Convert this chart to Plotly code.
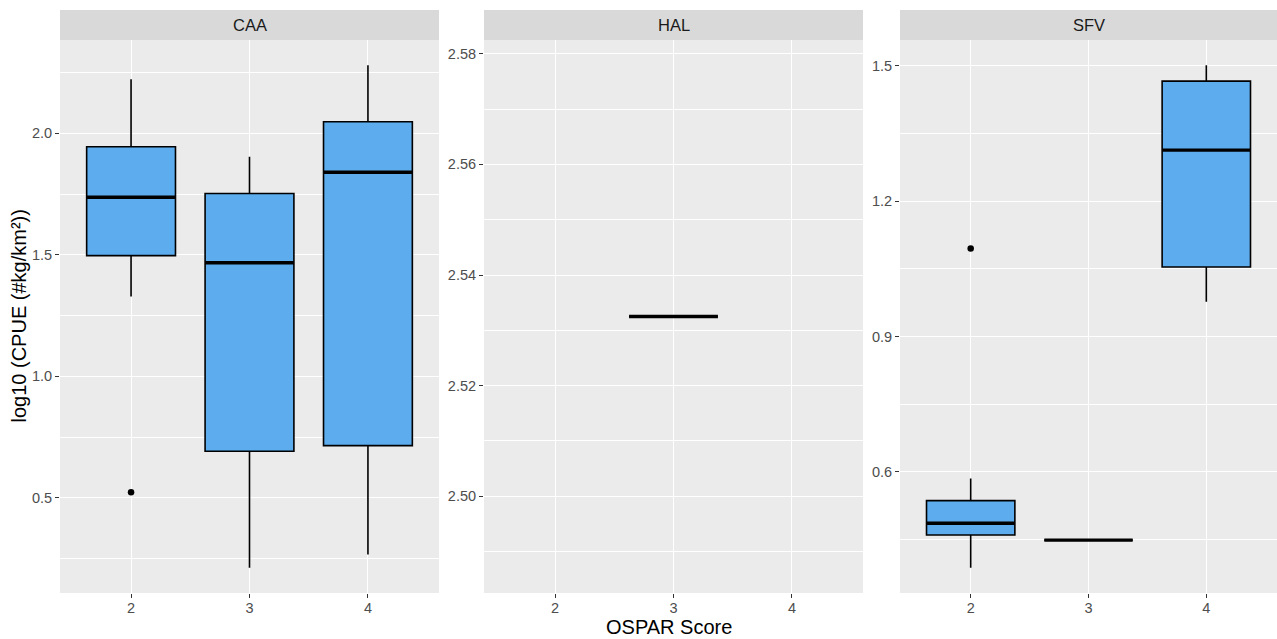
import plotly.graph_objects as go

W, H = 1277, 639

# ---- data -------------------------------------------------------------
scores = [2, 3, 4]
panels = ["CAA", "HAL", "SFV"]

# CAA: five-number summaries per OSPAR score
caa_x = [2, 3, 4]
caa_low = [1.329, 0.212, 0.267]
caa_q1 = [1.497, 0.692, 0.715]
caa_med = [1.737, 1.468, 1.840]
caa_q3 = [1.945, 1.753, 2.048]
caa_high = [2.223, 1.904, 2.281]
caa_out_x = [2]
caa_out_y = [0.523]

# HAL: a single observation at score 3
hal_x = [3]
hal_low = [2.5325]
hal_q1 = [2.5325]
hal_med = [2.5325]
hal_q3 = [2.5325]
hal_high = [2.5325]
hal_out_x = []
hal_out_y = []

# SFV
sfv_x = [2, 3, 4]
sfv_low = [0.387, 0.4486, 0.977]
sfv_q1 = [0.460, 0.4486, 1.054]
sfv_med = [0.486, 0.4486, 1.313]
sfv_q3 = [0.536, 0.4486, 1.466]
sfv_high = [0.585, 0.4486, 1.5015]
sfv_out_x = [2]
sfv_out_y = [1.095]

# ---- styling ----------------------------------------------------------
FILL = "#5CACEE"
PANEL_BG = "#EBEBEB"
STRIP_BG = "#D9D9D9"
FONT = "Liberation Sans, Arial, sans-serif"
BOX_W = 0.75

# panel extents in pixels (left, right); shared top/bottom
panel_px = [(60, 439), (484, 863), (900, 1277)]
top_px, bottom_px, strip_top_px = 40, 593, 10

tick_fmt = [".1f", ".2f", ".1f"]
tick_step = [0.5, 0.02, 0.3]


def y_range(vals, zero_pad=0.05):
    lo, hi = min(vals), max(vals)
    span = hi - lo
    if span == 0:
        return [lo - zero_pad, hi + zero_pad]
    return [lo - 0.05 * span, hi + 0.05 * span]


series = [
    (caa_x, caa_low, caa_q1, caa_med, caa_q3, caa_high, caa_out_x, caa_out_y),
    (hal_x, hal_low, hal_q1, hal_med, hal_q3, hal_high, hal_out_x, hal_out_y),
    (sfv_x, sfv_low, sfv_q1, sfv_med, sfv_q3, sfv_high, sfv_out_x, sfv_out_y),
]

fig = go.Figure()
layout = {}
shapes = []
annotations = []

for i, (name, s) in enumerate(zip(panels, series)):
    x, lo, q1, med, q3, hi, ox, oy = s
    suffix = "" if i == 0 else str(i + 1)
    xa, ya = "x" + suffix, "y" + suffix

    fig.add_trace(go.Box(
        x=x, lowerfence=lo, q1=q1, median=med, q3=q3, upperfence=hi,
        width=BOX_W, fillcolor=FILL, line=dict(color="black", width=1.6),
        whiskerwidth=0, boxpoints=False, showlegend=False,
        xaxis=xa, yaxis=ya, hoverinfo="skip",
    ))

    # thicker median bars
    mx, my = [], []
    for xv, m in zip(x, med):
        mx += [xv - BOX_W / 2, xv + BOX_W / 2, None]
        my += [m, m, None]
    fig.add_trace(go.Scatter(
        x=mx, y=my, mode="lines", line=dict(color="black", width=3.4),
        showlegend=False, xaxis=xa, yaxis=ya, hoverinfo="skip",
    ))

    if ox:
        fig.add_trace(go.Scatter(
            x=ox, y=oy, mode="markers",
            marker=dict(color="black", size=6.5),
            showlegend=False, xaxis=xa, yaxis=ya, hoverinfo="skip",
        ))

    l, r = panel_px[i]
    dom_x = [l / W, r / W]
    all_vals = lo + hi + oy
    step = tick_step[i]

    layout["xaxis" + suffix] = dict(
        domain=dom_x, anchor=ya, range=[1.4, 4.6],
        tickvals=scores, ticktext=[str(v) for v in scores],
        showgrid=True, gridcolor="white", gridwidth=1.4,
        zeroline=False, showline=False,
        ticks="outside", ticklen=4, tickwidth=1.1, tickcolor="#333333",
        ticklabelstandoff=-2,
        tickfont=dict(family=FONT, size=14.5, color="#4D4D4D"),
        automargin=False,
    )
    layout["yaxis" + suffix] = dict(
        domain=[(H - bottom_px) / H, (H - top_px) / H], anchor=xa,
        range=y_range(all_vals), tick0=0, dtick=step, tickformat=tick_fmt[i],
        showgrid=True, gridcolor="white", gridwidth=1.4,
        minor=dict(tick0=0, dtick=step / 2, showgrid=True,
                   gridcolor="white", gridwidth=0.7, ticks=""),
        zeroline=False, showline=False,
        ticks="outside", ticklen=4, tickwidth=1.1, tickcolor="#333333",
        tickfont=dict(family=FONT, size=14.5, color="#4D4D4D"),
        automargin=False,
    )

    # facet strip
    shapes.append(dict(
        type="rect", xref="paper", yref="paper",
        x0=dom_x[0], x1=dom_x[1],
        y0=(H - top_px) / H, y1=(H - strip_top_px) / H,
        fillcolor=STRIP_BG, line=dict(width=0), layer="below",
    ))
    annotations.append(dict(
        text=name, xref="paper", yref="paper",
        x=(dom_x[0] + dom_x[1]) / 2, y=(H - (top_px + strip_top_px) / 2) / H,
        xanchor="center", yanchor="middle", showarrow=False,
        font=dict(family=FONT, size=16.5, color="#1A1A1A"),
    ))

annotations.append(dict(
    text="OSPAR Score", xref="paper", yref="paper",
    x=((panel_px[0][0] + panel_px[2][1]) / 2) / W, y=0,
    xanchor="center", yanchor="bottom", showarrow=False, borderpad=0,
    font=dict(family=FONT, size=20, color="black"),
))
annotations.append(dict(
    text="log10 (CPUE (#kg/km²))", xref="paper", yref="paper",
    x=18 / W, y=(H - (top_px + bottom_px) / 2) / H, textangle=-90,
    xanchor="center", yanchor="middle", showarrow=False,
    font=dict(family=FONT, size=20, color="black"),
))

fig.update_layout(
    width=W, height=H,
    margin=dict(l=0, r=0, t=0, b=0),
    paper_bgcolor="white", plot_bgcolor=PANEL_BG,
    shapes=shapes, annotations=annotations,
    boxmode="overlay", showlegend=False,
    font=dict(family=FONT),
    **layout,
)

fig.write_html("out.html")
